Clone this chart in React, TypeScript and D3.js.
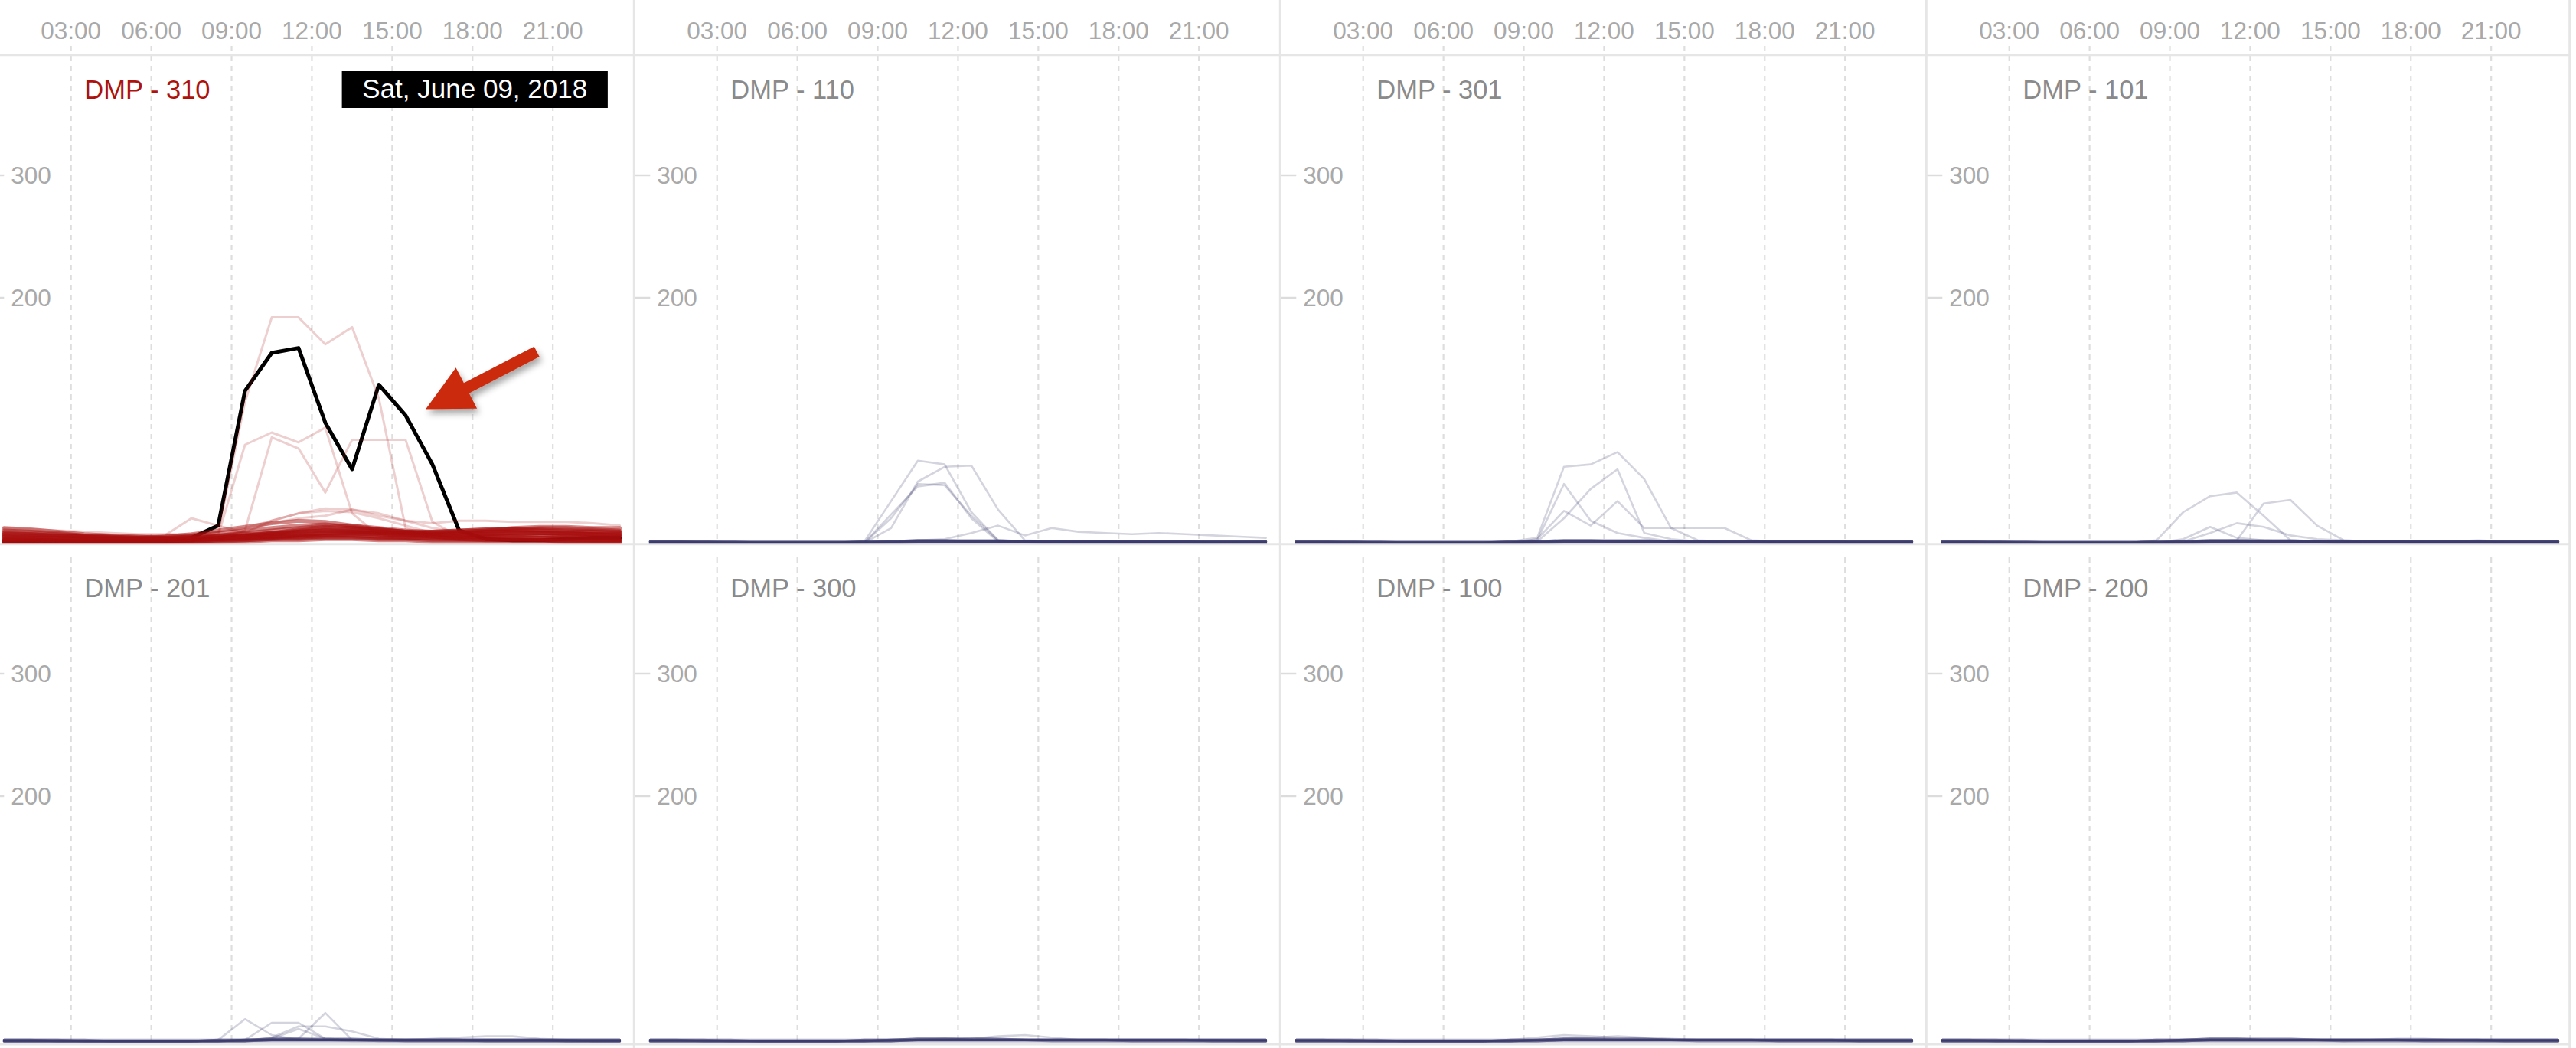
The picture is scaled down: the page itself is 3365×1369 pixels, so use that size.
import React from "react";
import * as d3 from "d3";

// ---------- data ----------
const HOURS = [0.5, 1.5, 2.5, 3.5, 4.5, 5.5, 6.5, 7.5, 8.5, 9.5, 10.5, 11.5, 12.5, 13.5, 14.5, 15.5, 16.5, 17.5, 18.5, 19.5, 20.5, 21.5, 22.5, 23.5];
const X_TICKS = [3, 6, 9, 12, 15, 18, 21];
const X_TICK_LABELS = ["03:00", "06:00", "09:00", "12:00", "15:00", "18:00", "21:00"];
const Y_TICKS = [200, 300];
const Y_DOMAIN = [0, 400];
const HIGHLIGHT_DATE = "Sat, June 09, 2018";

// DMP - 310 (selected sensor), highlighted day
const black310 = [1, 1, 1, 1, 1, 1, 1, 4, 14, 124, 155, 159, 98, 60, 129, 104, 64, 10, 3, 2, 2, 3, 4, 4];
// DMP - 310 other days with activity
const redA = [2, 2, 1, 1, 1, 1, 1, 2, 8, 115, 184, 184, 162, 176, 118, 12, 5, 3, 2, 2, 2, 1, 1, 1];
const redB = [3, 3, 2, 2, 2, 2, 2, 3, 6, 80, 90, 82, 94, 24, 6, 4, 3, 3, 3, 3, 2, 2, 2, 2];
const redC = [2, 2, 2, 1, 1, 1, 1, 2, 3, 10, 86, 77, 41, 84, 84, 84, 17, 5, 3, 2, 2, 2, 2, 2];
const redTail = [12, 11, 10, 9, 8, 7, 7, 7, 9, 12, 18, 24, 28, 27, 22, 18, 16, 18, 18, 17, 17, 17, 16, 14];
const redD = [3, 3, 2, 2, 2, 2, 6, 20, 14, 8, 5, 4, 4, 4, 3, 3, 3, 2, 2, 2, 2, 2, 2, 2];
const redBump1 = [2, 2, 1, 1, 1, 1, 1, 2, 4, 8, 18, 24, 26, 25, 20, 14, 8, 5, 4, 3, 3, 2, 2, 2];
const redBump2 = [4, 4, 3, 3, 3, 3, 3, 4, 6, 10, 16, 20, 22, 27, 24, 18, 12, 9, 8, 8, 7, 7, 6, 6];
// DMP - 310 quiet days (dense band near zero)
const redLow1 = [10, 9, 8, 6, 5, 4, 4, 5, 6, 7, 8, 9, 10, 9, 8, 8, 9, 10, 11, 11, 12, 12, 11, 10];
const redLow2 = [6, 6, 5, 4, 3, 3, 3, 4, 5, 6, 8, 10, 12, 11, 9, 8, 7, 8, 9, 10, 10, 9, 9, 8];
const redLow3 = [3, 3, 2, 2, 2, 2, 2, 3, 4, 6, 7, 8, 9, 9, 8, 7, 6, 6, 7, 8, 8, 7, 7, 6];
const redLow4 = [12, 11, 9, 7, 6, 5, 5, 6, 8, 10, 12, 14, 15, 13, 11, 9, 8, 9, 10, 12, 13, 13, 12, 12];
const redLow5 = [1, 1, 1, 1, 1, 1, 1, 2, 3, 4, 5, 5, 6, 6, 5, 4, 4, 4, 5, 5, 4, 4, 4, 3];
const redLow6 = [8, 7, 6, 5, 4, 4, 5, 7, 10, 13, 16, 18, 17, 14, 11, 9, 8, 8, 9, 9, 8, 8, 7, 7];
const redLow7 = [2, 2, 2, 1, 1, 1, 2, 2, 3, 3, 4, 5, 6, 7, 7, 6, 5, 4, 4, 3, 3, 3, 2, 2];
const redLow8 = [5, 5, 4, 4, 3, 3, 3, 3, 4, 5, 7, 9, 11, 12, 11, 9, 7, 6, 6, 6, 6, 6, 5, 5];
const redLow9 = [0, 0, 0, 0, 0, 0, 0, 1, 2, 3, 4, 6, 8, 9, 8, 7, 5, 3, 2, 2, 2, 1, 1, 1];
const redLow10 = [4, 4, 3, 3, 2, 2, 2, 2, 3, 4, 5, 6, 7, 8, 8, 7, 7, 7, 8, 8, 8, 7, 7, 6];
const redLow11 = [7, 6, 6, 5, 5, 4, 4, 4, 5, 6, 8, 11, 13, 12, 10, 9, 9, 10, 11, 11, 10, 10, 9, 9];
const redLow12 = [1, 1, 0, 0, 0, 0, 0, 1, 1, 2, 3, 4, 5, 5, 4, 4, 3, 3, 3, 3, 2, 2, 2, 2];
const redLow13 = [9, 8, 7, 6, 5, 5, 4, 5, 6, 8, 10, 12, 14, 14, 12, 10, 9, 9, 10, 11, 11, 10, 10, 9];
const redLow14 = [3, 3, 3, 2, 2, 2, 1, 2, 3, 5, 7, 9, 10, 10, 9, 8, 6, 5, 5, 5, 4, 4, 4, 3];
const redLow15 = [2, 2, 1, 1, 1, 1, 1, 1, 2, 2, 3, 3, 4, 4, 3, 3, 2, 2, 2, 2, 2, 1, 1, 1];
const redLow16 = [5, 4, 4, 3, 3, 3, 3, 3, 3, 4, 5, 6, 6, 6, 5, 5, 5, 5, 6, 6, 6, 5, 5, 5];
const redLow17 = [0, 0, 0, 0, 0, 0, 0, 0, 1, 1, 2, 2, 3, 3, 2, 2, 1, 1, 1, 1, 1, 0, 0, 0];
const redLow18 = [7, 7, 6, 5, 4, 3, 3, 3, 4, 5, 6, 7, 8, 8, 7, 6, 6, 7, 7, 8, 8, 8, 7, 7];

const RED_LOW = [redLow1, redLow2, redLow3, redLow4, redLow5, redLow6, redLow7, redLow8, redLow9, redLow10, redLow11, redLow12, redLow13, redLow14, redLow15, redLow16, redLow17, redLow18];
const RED_ACTIVE = [redD, redBump1, redBump2, redTail, redA, redB, redC];

// quiet days of the other sensors (near zero all day)
const quietA = [1, 1, 1, 1, 1, 1, 1, 1, 1, 1, 1, 1, 1, 1, 1, 1, 1, 1, 1, 1, 1, 1, 1, 1];
const quietB = [0, 0, 0, 0, 0, 0, 0, 0, 0, 1, 1, 1, 1, 1, 1, 1, 1, 1, 0, 0, 0, 0, 0, 0];
const quietC = [1, 1, 1, 1, 0, 0, 0, 0, 1, 1, 2, 2, 2, 2, 1, 1, 1, 1, 1, 1, 1, 1, 1, 1];
const quietD = [0, 0, 0, 0, 0, 0, 0, 0, 0, 0, 0, 0, 0, 0, 0, 0, 0, 0, 0, 0, 0, 0, 0, 0];
const quietE = [1, 1, 0, 0, 0, 0, 0, 0, 0, 1, 2, 2, 1, 1, 1, 1, 1, 1, 1, 1, 1, 1, 1, 1];
const quietF = [0, 0, 0, 0, 0, 0, 0, 0, 1, 1, 1, 1, 1, 1, 1, 0, 0, 0, 0, 0, 0, 0, 0, 0];
const quietG = [1, 1, 1, 0, 0, 0, 0, 0, 0, 0, 1, 1, 1, 1, 1, 1, 1, 1, 1, 1, 1, 0, 0, 0];
const quietH = [0, 0, 0, 0, 0, 0, 0, 0, 0, 0, 1, 1, 1, 1, 1, 1, 1, 1, 1, 1, 1, 1, 1, 1];
const QUIET = [quietA, quietB, quietC, quietD, quietE, quietF, quietG, quietH];

// DMP - 110
const g110a = [0, 0, 0, 0, 0, 0, 0, 0, 1, 34, 67, 64, 25, 2, 1, 1, 1, 1, 1, 1, 1, 1, 1, 1];
const g110b = [0, 0, 0, 0, 0, 0, 0, 0, 0, 23, 46, 49, 20, 1, 1, 1, 1, 1, 1, 1, 1, 0, 0, 0];
const g110c = [0, 0, 0, 0, 0, 0, 0, 0, 0, 12, 50, 62, 63, 27, 2, 1, 1, 1, 1, 1, 1, 1, 1, 1];
const g110d = [0, 0, 0, 0, 0, 0, 0, 0, 0, 20, 48, 47, 22, 2, 1, 1, 0, 0, 0, 0, 0, 0, 0, 0];
const g110e = [1, 1, 1, 1, 1, 1, 1, 1, 1, 1, 2, 3, 8, 14, 6, 12, 9, 8, 7, 8, 7, 6, 5, 4];
// DMP - 301
const p301a = [0, 0, 0, 0, 0, 0, 0, 0, 1, 4, 62, 64, 74, 52, 12, 2, 1, 1, 1, 1, 1, 1, 1, 1];
const p301b = [0, 0, 0, 0, 0, 0, 0, 0, 0, 2, 48, 18, 8, 4, 1, 1, 0, 0, 0, 0, 0, 0, 0, 0];
const p301c = [0, 0, 0, 0, 0, 0, 0, 0, 0, 3, 26, 14, 34, 12, 12, 12, 12, 2, 1, 1, 1, 1, 1, 1];
const p301d = [0, 0, 0, 0, 0, 0, 0, 0, 0, 1, 20, 44, 60, 8, 3, 1, 1, 1, 0, 0, 0, 0, 0, 0];
// DMP - 101
const p101a = [0, 0, 0, 0, 0, 0, 0, 0, 2, 25, 38, 41, 22, 2, 1, 1, 1, 1, 1, 1, 1, 1, 1, 1];
const p101b = [0, 0, 0, 0, 0, 0, 0, 0, 0, 0, 1, 2, 32, 35, 14, 2, 1, 1, 1, 1, 1, 1, 1, 1];
const p101c = [0, 0, 0, 0, 0, 0, 0, 0, 0, 3, 13, 4, 2, 1, 1, 0, 0, 0, 0, 0, 0, 0, 0, 0];
const p101d = [0, 0, 0, 0, 0, 0, 0, 0, 0, 1, 8, 16, 13, 6, 3, 2, 1, 1, 1, 1, 2, 1, 1, 1];
// DMP - 201
const p201a = [0, 0, 0, 0, 0, 0, 0, 0, 1, 18, 5, 1, 1, 0, 0, 0, 0, 0, 0, 0, 0, 0, 0, 0];
const p201b = [0, 0, 0, 0, 0, 0, 0, 0, 0, 1, 15, 15, 2, 1, 0, 0, 0, 0, 0, 0, 0, 0, 0, 0];
const p201c = [0, 0, 0, 0, 0, 0, 0, 0, 0, 0, 3, 12, 12, 8, 2, 1, 1, 1, 1, 1, 1, 1, 0, 0];
const p201d = [0, 0, 0, 0, 0, 0, 0, 0, 0, 0, 1, 2, 23, 1, 0, 0, 0, 0, 0, 0, 0, 0, 0, 0];
const p201e = [0, 0, 0, 0, 0, 0, 0, 0, 0, 0, 2, 10, 2, 1, 1, 1, 2, 3, 4, 4, 2, 1, 0, 0];
// DMP - 300
const p300a = [0, 0, 0, 0, 0, 0, 0, 0, 0, 0, 1, 1, 2, 4, 5, 3, 1, 1, 1, 1, 1, 1, 0, 0];
const p300b = [0, 0, 0, 0, 0, 0, 0, 0, 0, 0, 1, 2, 3, 2, 1, 1, 1, 1, 1, 1, 1, 1, 1, 1];
// DMP - 100
const p100a = [0, 0, 0, 0, 0, 0, 0, 0, 1, 3, 5, 4, 3, 2, 1, 1, 1, 1, 0, 0, 0, 0, 0, 0];
const p100b = [0, 0, 0, 0, 0, 0, 0, 0, 0, 1, 2, 3, 4, 3, 2, 1, 1, 1, 1, 1, 1, 0, 0, 0];
// DMP - 200
const p200a = [0, 0, 0, 0, 0, 0, 0, 0, 0, 0, 0, 0, 0, 0, 0, 0, 1, 2, 2, 1, 0, 0, 0, 0];
const p200b = [0, 0, 0, 0, 0, 0, 0, 0, 0, 1, 1, 1, 1, 1, 1, 1, 1, 1, 1, 1, 1, 1, 1, 1];

const PANEL_NAMES = ["DMP - 310", "DMP - 110", "DMP - 301", "DMP - 101", "DMP - 201", "DMP - 300", "DMP - 100", "DMP - 200"];
const PANEL_QUIET = [RED_LOW, QUIET, QUIET, QUIET, QUIET, QUIET, QUIET, QUIET];
const PANEL_ACTIVE = [
  RED_ACTIVE,
  [g110a, g110b, g110c, g110d, g110e],
  [p301a, p301b, p301c, p301d],
  [p101a, p101b, p101c, p101d],
  [p201a, p201b, p201c, p201d, p201e],
  [p300a, p300b],
  [p100a, p100b],
  [p200a, p200b],
];
const SELECTED = 0;
const ARROW_FROM = [20.4, 156];
const ARROW_TO = [16.25, 109];

// ---------- layout ----------
const W = 3365;
const H = 1369;
const PANEL_W = 844;
const FIRST_LEFT = -15.7;
const ROW_ZERO = [709, 1360];
const ROW_TOP_GRID = [60, 728];
const FONT = "'Liberation Sans', Arial, Helvetica, sans-serif";
const GRID = "#e6e6e6";

function Panel({ idx }: { idx: number }) {
  const col = idx % 4;
  const row = Math.floor(idx / 4);
  const L = FIRST_LEFT + col * PANEL_W;
  const x = d3.scaleLinear().domain([0, 24]).range([L + 3.5, L + 842.8]);
  const zero = ROW_ZERO[row];
  const y = d3.scaleLinear().domain(Y_DOMAIN).range([zero, zero - 640]);
  const line = d3
    .line<number>()
    .x((_, i) => x(HOURS[i]))
    .y((v) => y(v));
  const selected = idx === SELECTED;
  const color = selected ? "#a80e0e" : "#3a3a6e";

  return (
    <g>
      {X_TICKS.map((t) => (
        <line
          key={"g" + t}
          x1={x(t)}
          x2={x(t)}
          y1={ROW_TOP_GRID[row]}
          y2={zero - 2}
          stroke="#dedede"
          strokeWidth={2.2}
          strokeDasharray="7 6"
        />
      ))}
      {Y_TICKS.map((t) => (
        <g key={"y" + t}>
          <line x1={L} x2={L + 21} y1={y(t)} y2={y(t)} stroke="#dcdcdc" strokeWidth={2.5} />
          <text x={L + 30} y={y(t)} dy="0.36em" fontSize={31.5} fill="#a9a9a9" fontFamily={FONT}>
            {t}
          </text>
        </g>
      ))}
      <text
        x={L + 126}
        y={row === 0 ? 129 : 780}
        fontSize={34.5}
        fill={selected ? "#ad130c" : "#8a8a8a"}
        fontFamily={FONT}
      >
        {PANEL_NAMES[idx]}
      </text>
      <g fill="none" strokeLinejoin="round" strokeLinecap="round">
        {selected && <path d={line(black310) || ""} stroke="#000" strokeWidth={5} />}
        {PANEL_QUIET[idx].map((s, i) => (
          <path
            key={"q" + i}
            d={line(s) || ""}
            stroke={color}
            strokeOpacity={selected ? 0.5 : 0.4}
            strokeWidth={selected ? 5 : 3.2}
          />
        ))}
        {PANEL_ACTIVE[idx].map((s, i) => (
          <path
            key={"a" + i}
            d={line(s) || ""}
            stroke={color}
            strokeOpacity={selected ? 0.2 : 0.22}
            strokeWidth={selected ? 3 : 2.6}
          />
        ))}
      </g>
      {selected && <Annotations x={x} y={y} />}
    </g>
  );
}

function Annotations({ x, y }: { x: d3.ScaleLinear<number, number>; y: d3.ScaleLinear<number, number> }) {
  const tx = x(ARROW_FROM[0]);
  const ty = y(ARROW_FROM[1]);
  const px = x(ARROW_TO[0]);
  const py = y(ARROW_TO[1]);
  const dx = px - tx;
  const dy = py - ty;
  const len = Math.hypot(dx, dy);
  const ux = dx / len;
  const uy = dy / len;
  const nx = -uy;
  const ny = ux;
  const headLen = 60;
  const headW = 30;
  const shaftW = 7.5;
  const bx = px - ux * headLen;
  const by = py - uy * headLen;
  const pts = [
    [tx + nx * shaftW, ty + ny * shaftW],
    [bx + nx * shaftW, by + ny * shaftW],
    [bx + nx * headW, by + ny * headW],
    [px, py],
    [bx - nx * headW, by - ny * headW],
    [bx - nx * shaftW, by - ny * shaftW],
    [tx - nx * shaftW, ty - ny * shaftW],
  ];
  const boxL = x(13.12);
  const boxR = x(23.05);
  const boxT = y(385);
  const boxB = y(355);
  return (
    <g>
      <polygon points={pts.map((p) => p.join(",")).join(" ")} fill="#cc2a10" filter="url(#arrowShadow)" />
      <rect x={boxL} y={boxT} width={boxR - boxL} height={boxB - boxT} fill="#000" />
      <text x={(boxL + boxR) / 2} y={boxB - 13} textAnchor="middle" fontSize={35} fill="#fff" fontFamily={FONT}>
        {HIGHLIGHT_DATE}
      </text>
    </g>
  );
}

export default function App() {
  const cols = [0, 1, 2, 3];
  return (
    <div style={{ width: W, height: H, background: "#fff" }}>
      <style>{`body{margin:0;background:#fff}`}</style>
      <svg width={W} height={H} style={{ display: "block" }}>
        <defs>
          <filter id="arrowShadow" x="-30%" y="-30%" width="160%" height="160%">
            <feDropShadow dx="3" dy="6" stdDeviation="4" floodColor="#000" floodOpacity="0.35" />
          </filter>
        </defs>
        <rect width={W} height={H} fill="#fff" />
        {cols.map((c) => {
          const L = FIRST_LEFT + c * PANEL_W;
          const x = d3.scaleLinear().domain([0, 24]).range([L + 3.5, L + 842.8]);
          return X_TICKS.map((t, i) => (
            <text key={c + "-" + t} x={x(t)} y={51} textAnchor="middle" fontSize={31.5} fill="#a9a9a9" fontFamily={FONT}>
              {X_TICK_LABELS[i]}
            </text>
          ));
        })}
        {PANEL_NAMES.map((_, i) => (
          <Panel key={i} idx={i} />
        ))}
        <line x1={0} x2={3358} y1={71.7} y2={71.7} stroke={GRID} strokeWidth={3} />
        <line x1={0} x2={3358} y1={710.7} y2={710.7} stroke={GRID} strokeWidth={3} />
        <line x1={0} x2={3358} y1={1364} y2={1364} stroke={GRID} strokeWidth={3} />
        {[1, 2, 3].map((c) => (
          <line
            key={c}
            x1={FIRST_LEFT + c * PANEL_W}
            x2={FIRST_LEFT + c * PANEL_W}
            y1={0}
            y2={H}
            stroke={GRID}
            strokeWidth={3}
          />
        ))}
        <line x1={3356.7} x2={3356.7} y1={0} y2={H} stroke={GRID} strokeWidth={3} />
      </svg>
    </div>
  );
}
